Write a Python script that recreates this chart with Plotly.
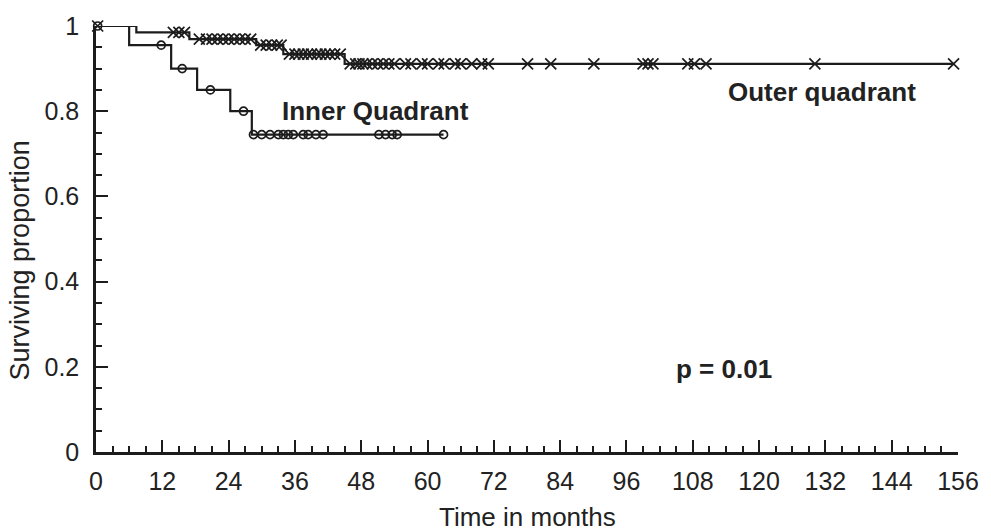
import numpy as np
import plotly.graph_objects as go

# ---- data ----
outer_event_t = [0.0, 7.3, 16.9, 29.0, 33.9, 45.0]
outer_surv = [1.0, 0.985, 0.969, 0.955, 0.934, 0.911]
outer_end = 155.2
outer_censor = [0.3, 14.0, 15.0, 16.0,
                18.7, 20.0, 21.0, 22.0, 23.0, 24.0, 25.0, 26.0, 27.0, 28.0,
                29.8, 30.8, 31.8, 32.8, 33.5,
                35.0, 36.0, 36.7, 37.5, 38.3, 39.0, 40.0, 40.7, 41.5, 42.3, 43.2, 44.2,
                46.0, 47.0, 47.6, 48.3, 49.0, 50.0, 51.0, 52.0, 53.0, 54.0, 56.0, 57.0,
                59.0, 60.0, 62.0, 63.0, 65.0, 66.0, 68.0, 69.8, 71.0, 78.1, 82.3, 90.1,
                99.0, 99.9, 100.8, 107.1, 108.3, 110.4, 130.1, 155.2]

inner_event_t = [0.0, 6.0, 13.6, 18.3, 24.3, 28.2]
inner_surv = [1.0, 0.955, 0.900, 0.850, 0.800, 0.745]
inner_end = 62.9
inner_censor = [0.3, 11.8, 15.6, 20.7, 26.7,
                28.5, 30.0, 31.5, 33.0, 33.9, 34.8, 35.7, 37.5, 38.4, 39.8, 41.1,
                51.2, 52.4, 53.6, 54.5, 62.9]

x_ticks = list(range(0, 157, 12))
y_ticks = [0, 0.2, 0.4, 0.6, 0.8, 1.0]
y_ticktext = ["0", "0.2", "0.4", "0.6", "0.8", "1"]

INK = "#1c1c1c"
TXT = "#222"
FONT = "Liberation Sans, Arial, sans-serif"


def surv_at(ts, ss, t):
    ts = np.asarray(ts)
    ss = np.asarray(ss)
    idx = np.searchsorted(ts, np.asarray(t), side="right") - 1
    return ss[idx]


fig = go.Figure()

for ev, sv, end, cens, sym, msize in [
    (outer_event_t, outer_surv, outer_end, outer_censor, "x-thin-open", 11),
    (inner_event_t, inner_surv, inner_end, inner_censor, "circle-open", 8),
]:
    fig.add_trace(go.Scatter(
        x=list(ev) + [end], y=list(sv) + [sv[-1]],
        mode="lines", line=dict(color=INK, width=2.2, shape="hv"),
        cliponaxis=False, showlegend=False, hoverinfo="skip"))
    fig.add_trace(go.Scatter(
        x=cens, y=surv_at(ev, sv, cens),
        mode="markers",
        marker=dict(symbol=sym, size=msize, color=INK,
                    line=dict(color=INK, width=1.7)),
        cliponaxis=False, showlegend=False))

axis_common = dict(
    showgrid=False, zeroline=False, showline=True,
    linecolor=INK, linewidth=2.5, mirror=False,
    ticks="inside", ticklen=12, tickwidth=2, tickcolor=INK,
    tickfont=dict(family=FONT, size=25, color=TXT),
)

fig.update_layout(
    width=991, height=532, autosize=False,
    margin=dict(l=96, r=25, t=20, b=80),
    paper_bgcolor="white", plot_bgcolor="white",
    font=dict(family=FONT, color=TXT),
    xaxis=dict(range=[0, 156], tickvals=x_ticks, ticklabelstandoff=5,
               minor=dict(dtick=3, tick0=0, ticks="inside", ticklen=6,
                          tickwidth=2, tickcolor=INK, showgrid=False),
               **axis_common),
    yaxis=dict(range=[0, 1], tickvals=y_ticks, ticktext=y_ticktext,
               ticklabelstandoff=9,
               minor=dict(dtick=0.05, tick0=0, ticks="inside", ticklen=6,
                          tickwidth=2, tickcolor=INK, showgrid=False),
               **axis_common),
    annotations=[
        dict(text="<b>Inner Quadrant</b>", x=50.6, y=0.80, xref="x", yref="y",
             showarrow=False, font=dict(family=FONT, size=26, color=TXT)),
        dict(text="<b>Outer quadrant</b>", x=131.3, y=0.845, xref="x", yref="y",
             showarrow=False, font=dict(family=FONT, size=26, color=TXT)),
        dict(text="<b>p = 0.01</b>", x=113.7, y=0.195, xref="x", yref="y",
             showarrow=False, font=dict(family=FONT, size=26, color=TXT)),
        dict(text="Time in months", x=0.5, y=-0.152, xref="paper", yref="paper",
             xanchor="center", yanchor="middle", showarrow=False,
             font=dict(family=FONT, size=26, color=TXT)),
        dict(text="Surviving proportion", x=-0.088, y=0.45, xref="paper",
             yref="paper", textangle=-90, xanchor="center", yanchor="middle",
             showarrow=False, font=dict(family=FONT, size=27, color=TXT)),
    ],
)

fig.write_html("out.html")
